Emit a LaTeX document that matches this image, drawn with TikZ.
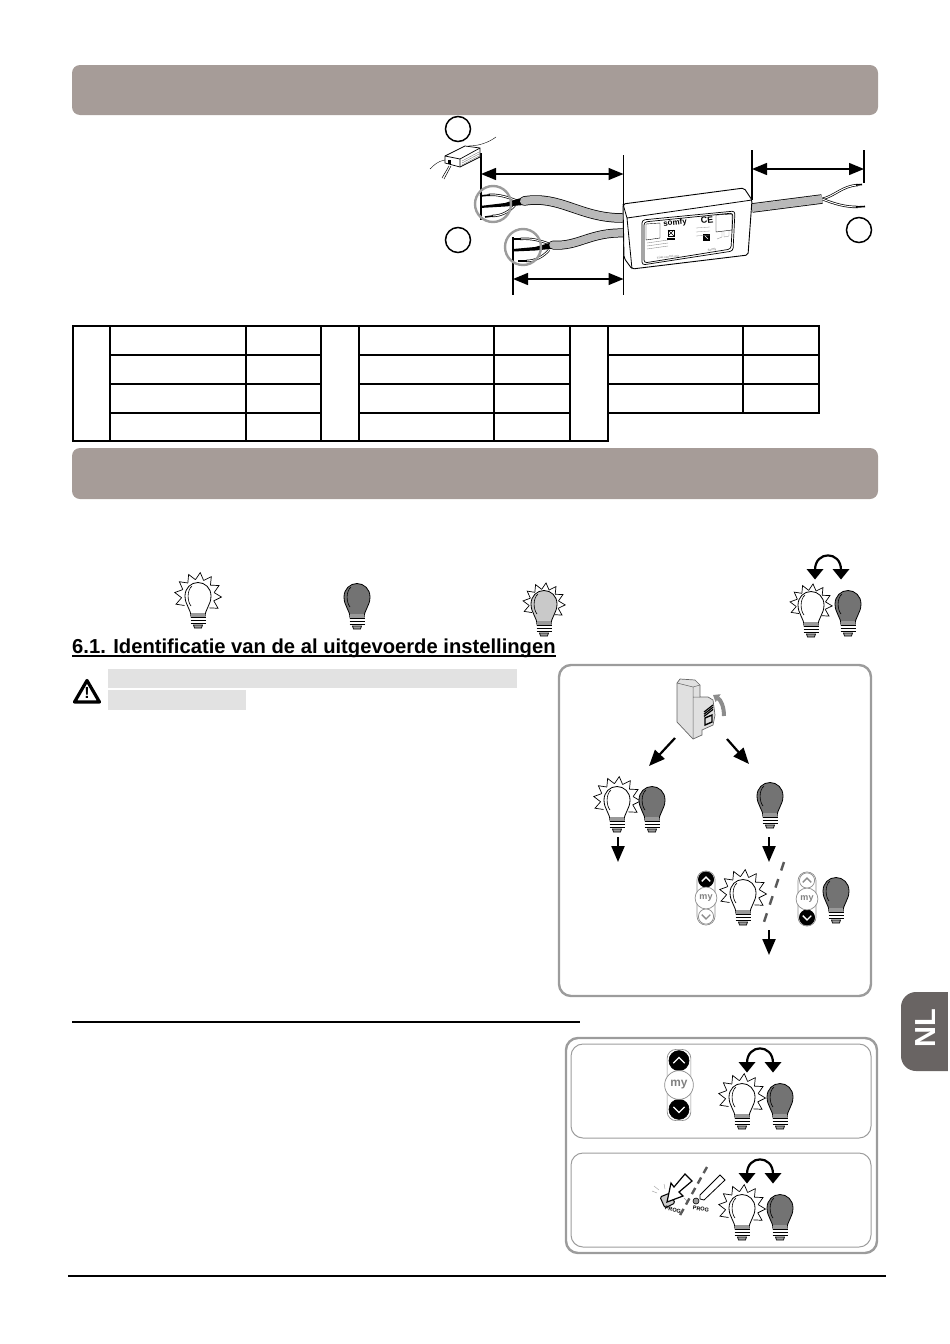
\documentclass[tikz,border=0pt]{standalone}
\usepackage{fontspec}
\setmainfont{Liberation Sans}
\usetikzlibrary{arrows.meta}
\definecolor{barcol}{HTML}{A69C98}
\definecolor{tabcol}{HTML}{696463}
\definecolor{offcol}{HTML}{737373}
\definecolor{dimcol}{HTML}{C9C9C9}
\definecolor{framecol}{HTML}{9C9C9C}
\definecolor{hilitecol}{HTML}{E2E2E2}
\definecolor{cablecol}{HTML}{B9B9B9}
\tikzset{
  headbar/.style={fill=barcol,rounded corners=8pt},
  tablecell/.style={draw=black,line width=1.6pt},
  framebox/.style={draw=framecol,line width=2.4pt,rounded corners=12pt},
  innerbox/.style={draw=framecol,line width=1pt,rounded corners=12pt},
  dimline/.style={line width=1.4pt},
  dimarrow/.style={line width=1.4pt,{Triangle[width=12pt,length=15pt]}-{Triangle[width=12pt,length=15pt]}},
  flowarrow/.style={line width=2.2pt,-{Triangle[width=13pt,length=16pt]}},
  slashline/.style={draw=black!65,line width=2.4pt,dash pattern=on 9pt off 9pt},
  wirething/.style={line width=.7pt,double=white,double distance=1pt},
  callout/.style={circle,draw=black,line width=1.5pt,minimum size=25pt,inner sep=0pt},
  ringmark/.style={draw=framecol,line width=2.4pt},
  keyon/.style={fill=black,draw=black},
  keyoff/.style={fill=white,draw=black!45},
  keyonchev/.style={draw=white},
  keyoffchev/.style={draw=black!45},
  pics/bulb/.style={code={
    \draw[fill=#1,line width=.8pt] (-7,21) .. controls (-7,13) and (-13,9) .. (-13,0)
      .. controls (-13,-8) and (-7,-13.5) .. (0,-13.5) .. controls (7,-13.5) and (13,-8) .. (13,0)
      .. controls (13,9) and (7,13) .. (7,21) -- cycle;
    \draw[line width=.6pt] (-7,10) .. controls (-11,5) and (-11,-6) .. (-6,-10);
    \fill[black!40] (-7,17) rectangle (7,21);
    \fill[white] (-7.5,21) rectangle (7.5,29);
    \foreach \y in {21.5,24.5,27.5}
      \draw[line width=1.6pt] (-7.5,\y) -- (7.5,\y);
    \draw[fill=black!40,line width=.7pt] (-4.5,29) -- (4.5,29) -- (3.5,32) -- (-3.5,32) -- cycle;
  }},
  pics/bulboff/.style={code={\pic {bulb=offcol};}},
  pics/bulbon/.style={code={
    \foreach \a in {145,174,...,377}
      \draw[line width=.7pt] (\a:16.5) -- (\a+14.5:23.5) -- (\a+29:16.5);
    \pic {bulb=white};
  }},
  pics/bulbdim/.style={code={
    \foreach \a in {145,174,...,377}
      \draw[line width=.7pt] (\a:16.5) -- (\a+14.5:23.5) -- (\a+29:16.5);
    \pic {bulb=dimcol};
  }},
  pics/swaparrow/.style={code={
    \draw[line width=2.2pt] (-13,15) .. controls (-13,-4.5) and (13,-4.5) .. (13,15);
    \fill (-21.5,14) -- (-4.5,14) -- (-13,24.5) -- cycle;
    \fill (4.5,14) -- (21.5,14) -- (13,24.5) -- cycle;
  }},
  pics/remote/.style 2 args={code={
    \draw[draw=black!45,fill=white,line width=.7pt,rounded corners=9pt] (-9.5,-28.5) rectangle (9.5,28.5);
    \draw[#1,line width=.7pt] (0,-19.5) circle (8);
    \draw[#2,line width=.7pt] (0,19.5) circle (8);
    \draw[fill=white,draw=black!45,line width=.7pt] (0,0) circle (11.5);
    \draw[#1chev,line width=1.3pt] (-4.5,-17.5) -- (0,-22) -- (4.5,-17.5);
    \draw[#2chev,line width=1.3pt] (-4.5,17.5) -- (0,22) -- (4.5,17.5);
    \node[text=black!50,font=\bfseries\fontsize{9.5}{9.5}\selectfont,transform shape,inner sep=0pt] {my};
  }}
}
\begin{document}
\begin{tikzpicture}[x=1pt,y=-1pt]
  \useasboundingbox (0,0) rectangle (950,1344);
  % grey bars
  \fill[headbar] (72,65) rectangle (878,115);
  \fill[headbar] (72,448) rectangle (878,499);

  % cable lengths
  \node (mark1) [callout] at (458,129) {};
  \node (mark2) [callout] at (458,240) {};
  \node (mark3) [callout] at (859,230) {};
  \coordinate (lenA) at (481,153); \coordinate (lenAb) at (481,220);
  \coordinate (lenB) at (623.5,155); \coordinate (lenBb) at (623.5,295);
  \coordinate (lenC) at (513,237); \coordinate (lenCb) at (513,295);
  \coordinate (lenD) at (752,150); \coordinate (lenDb) at (752,200);
  \coordinate (lenE) at (864,150); \coordinate (lenEb) at (864,183);
  \draw[dimline] (lenA) -- (lenAb);
  \draw[dimline] (lenB) -- (lenBb);
  \draw[dimline] (lenC) -- (lenCb);
  \draw[dimline] (lenD) -- (lenDb);
  \draw[dimline] (lenE) -- (lenEb);
  \draw[dimarrow] (481,174) -- (623.5,174);
  \draw[dimarrow] (513,279) -- (623.5,279);
  \draw[dimarrow] (752,169) -- (864,169);

  % small device
  \draw[line width=.4pt] (445,160) .. controls (438,161) and (434,165) .. (430,169);
  \draw[line width=.5pt] (449,166) -- (442,178) (451,166) -- (444,179);
  \draw[line width=.4pt] (468,146) .. controls (478,146) and (488,143) .. (496,137);
  \draw[line width=.7pt,fill=white] (445,156) -- (465,146) -- (480,148) -- (480,157) -- (460,167) -- (445,163) -- cycle;
  \draw[line width=.7pt] (445,156) -- (460,159) -- (480,148) (460,159) -- (460,167);
  \foreach \t in {2,4,6}
    \draw[black!60,line width=.3pt] (462,159+\t) -- (479,150+\t);
  \fill (448,160) rectangle (451,164);

  % wires and cables
  \draw[wirething] (488,195) .. controls (498,194) and (508,197) .. (520,202);
  \draw[wirething] (492,216) .. controls (502,216) and (510,211) .. (515,205);
  \draw[line width=1.6pt] (480,196) -- (490,195) (485,217) -- (493,216);
  \fill (480,206) -- (505,203) -- (524,197) -- (524,205) -- (505,206.5) -- (480,208) -- cycle;
  \draw[wirething] (520,239) .. controls (530,238) and (540,240) .. (552,245);
  \draw[wirething] (526,261) .. controls (535,261) and (543,257) .. (549,250);
  \draw[line width=1.6pt] (513,239) -- (521,239) (518,261) -- (527,261);
  \fill (513,249) -- (535,247) -- (555,241.5) -- (555,248.5) -- (535,250.5) -- (513,251.5) -- cycle;
  \draw[line width=9.5pt,line cap=round] (524,201) .. controls (560,195) and (580,218) .. (622,218);
  \draw[cablecol,line width=8pt,line cap=round] (524,201) .. controls (560,195) and (580,218) .. (622,218);
  \draw[line width=9pt,line cap=round] (553,245) .. controls (578,247) and (590,232) .. (624,233);
  \draw[cablecol,line width=7.5pt,line cap=round] (553,245) .. controls (578,247) and (590,232) .. (624,233);
  \draw[ringmark] (493,204) circle (18);
  \draw[ringmark] (523,247) circle (18);
  \draw[wirething] (822,199) .. controls (835,196) and (842,186) .. (858,185);
  \draw[wirething] (822,199) .. controls (835,204) and (845,207) .. (858,207);
  \draw[line width=1.6pt] (856,185) -- (862,184.5) (856,207) -- (865,206.5);
  \draw[line width=9.5pt] (752,208) -- (822,199);
  \draw[cablecol,line width=8pt] (752,208) -- (822,199);

  % main device
  \draw[fill=white,line width=.9pt,rounded corners=2pt] (623,204) -- (744,188) -- (752,200) -- (748,255) -- (632,269) -- (624,258) -- cycle;
  \draw[line width=.8pt] (623,204) -- (627,218) -- (752,200) (627,218) -- (632,269);
  \draw[line width=.7pt,rounded corners=3pt] (642,220) -- (735,211) -- (733,251) -- (642,265) -- cycle;
  \draw[line width=.7pt,rounded corners=3pt] (644,222) -- (733,213) -- (731,249) -- (644,263) -- cycle;
  \draw[line width=.4pt] (646,224) -- (660,223) -- (660,238) -- (646,240) -- cycle;
  \draw[line width=.4pt] (716,215) -- (732,214) -- (732,230) -- (716,232) -- cycle;
  \node (brand) [rotate=6,inner sep=0pt,font=\bfseries\fontsize{8}{8}\selectfont] at (675,223) {somfy};
  \node (ce) [rotate=6,inner sep=0pt,font=\bfseries\fontsize{9}{9}\selectfont] at (707,220) {CE};
  \node (tagtext) [rotate=6,inner sep=0pt,text=black!60,font=\fontsize{3}{3}\selectfont] at (668,257) {Triac control unit};
  \node (tagtextb) [rotate=6,inner sep=0pt,text=black!60,font=\fontsize{3}{3}\selectfont] at (712,250) {Somfy};
  \fill (703,234) rectangle (710,241);
  \draw[white,line width=.5pt] (705,236) -- (708,239);
  \draw[line width=.4pt] (668,230) rectangle (674,236);
  \draw[line width=.4pt] (668,230) -- (674,236) (674,230) -- (668,236);
  \fill (667,238) rectangle (675,240);
  \foreach \y in {243,246,249}
    \draw[black!45,line width=.4pt] (647,\y) -- (668,\y-3);
  \foreach \y in {228,232,236}
    \draw[black!45,line width=.3pt] (696,\y) -- (710,\y-1);
  \draw[black!40,line width=.4pt] (717,239) -- (722,237) -- (722,232) (724,231) -- (724,237) -- (729,236) -- (729,231);

  % table
  \foreach \xa/\xb in {110/246,246/321,359/494,494/570}
    \foreach \ya/\yb in {326/355,355/384,384/413,413/441}
      \draw[tablecell] (\xa,\ya) rectangle (\xb,\yb);
  \foreach \xa/\xb in {608/743,743/819}
    \foreach \ya/\yb in {326/355,355/384,384/413}
      \draw[tablecell] (\xa,\ya) rectangle (\xb,\yb);
  \foreach \xa/\xb in {73/110,321/359,570/608}
    \draw[tablecell] (\xa,326) rectangle (\xb,441);

  % light states
  \pic at (198,596) {bulbon};
  \pic at (357,597) {bulboff};
  \pic[scale=.9] at (544,604) {bulbdim};
  \pic at (828,555) {swaparrow};
  \pic[scale=.9] at (811,605) {bulbon};
  \pic[scale=.9] at (848,604) {bulboff};

  % 6.1
  \node (sectitle) [anchor=base west,inner sep=0pt,font=\bfseries\fontsize{20.2}{20.2}\selectfont] at (72,653) {6.1. Identificatie van de al uitgevoerde instellingen};
  \draw[line width=1.6pt] ([yshift=-3pt]sectitle.base west) -- ([yshift=-3pt]sectitle.base east);
  \fill[hilitecol] (108,669) rectangle (517,688);
  \fill[hilitecol] (108,690) rectangle (246,710);
  \draw[line width=3.2pt,line join=round] (87,680.5) -- (99.5,702) -- (74.5,702) -- cycle;
  \node (warnmark) [inner sep=0pt,font=\bfseries\fontsize{16}{16}\selectfont] at (87,693) {!};

  % power-on box
  \draw[framebox] (559,665) rectangle (871,996);
  \draw[black!60,fill=black!12,line width=.7pt] (677,683) -- (680,679) -- (695,680) -- (700,685) -- (700,697) -- (708,697) -- (713,700) -- (715,715) -- (713,725) -- (702,730) -- (702,735) -- (693,739) -- (677,722) -- cycle;
  \draw[black!60,line width=.5pt] (677,683) -- (693,687) -- (693,739) (693,687) -- (700,685) (693,697) -- (700,697);
  \foreach \t in {0,2.2,4.4}
    \draw[line width=1.2pt] (704,712+\t) -- (713,705+\t);
  \draw[line width=1.4pt] (705,718) -- (712,715) -- (712,722) -- (705,725) -- cycle;
  \draw[black!45,line width=4pt,-{Triangle[width=9pt,length=6pt]}] (724,716) .. controls (724,707) and (721,700) .. (713,695);
  \coordinate (splitL) at (675,738);
  \coordinate (splitLb) at (649,766);
  \coordinate (splitR) at (727,739);
  \coordinate (splitRb) at (749,764);
  \draw[flowarrow] (splitL) -- (splitLb);
  \draw[flowarrow] (splitR) -- (splitRb);
  \pic at (617,800) {bulbon};
  \pic at (652,800) {bulboff};
  \pic at (770,796) {bulboff};
  \coordinate (downA) at (618,837);
  \coordinate (downAb) at (618,862);
  \coordinate (downB) at (769,837);
  \coordinate (downBb) at (769,862);
  \coordinate (downC) at (769,930);
  \coordinate (downCb) at (769,955);
  \draw[flowarrow] (downA) -- (downAb);
  \draw[flowarrow] (downB) -- (downBb);
  \draw[flowarrow] (downC) -- (downCb);
  \draw[slashline] (784,862) -- (762,928);
  \pic[scale=.95] at (706,898) {remote={keyon}{keyoff}};
  \pic at (743,893) {bulbon};
  \pic[scale=.95] at (807,899) {remote={keyoff}{keyon}};
  \pic at (836,891) {bulboff};

  % rule
  \draw[line width=1.5pt] (72,1022) -- (580,1022);

  % reset box
  \draw[framebox] (566,1038) rectangle (877,1253);
  \draw[innerbox] (571,1044) rectangle (871,1138);
  \draw[innerbox] (571,1153) rectangle (871,1247);
  \pic[scale=1.25,transform shape] at (679,1085) {remote={keyon}{keyon}};
  \pic at (760,1048) {swaparrow};
  \pic at (742,1097) {bulbon};
  \pic at (780,1097) {bulboff};
  \pic at (760,1159) {swaparrow};
  \pic at (742,1208) {bulbon};
  \pic at (780,1208) {bulboff};
  % prog button
  \draw[fill=black!20,line width=1pt,rounded corners=1.5pt] (660,1197) -- (670,1193) -- (675,1203) -- (665,1208) -- cycle;
  \draw[line width=1.2pt,fill=white] (667,1202) -- (671,1183) -- (674,1187) -- (685,1174) -- (692,1181) -- (679,1192) -- (683,1196) -- cycle;
  \draw[black!40,line width=.4pt] (652,1191) -- (657,1193) (654,1186) -- (659,1190) (664,1184) -- (665,1189) (684,1198) -- (688,1202);
  \node (progA) [rotate=-15,inner sep=0pt,font=\bfseries\fontsize{5.5}{5.5}\selectfont] at (673,1210) {PROG};
  \draw[slashline,dash pattern=on 7pt off 5pt] (707,1167) -- (679,1217);
  \draw[line width=.6pt,fill=black!40] (696,1201) circle (3);
  \draw[line width=.8pt,fill=white] (720,1175) -- (725,1180) -- (704,1200) -- (700,1199) -- (700,1195) -- cycle;
  \node (progB) [rotate=-10,inner sep=0pt,font=\bfseries\fontsize{5.5}{5.5}\selectfont] at (701,1209) {PROG};

  % page foot and language tab
  \draw[line width=2pt] (68,1276) -- (886,1276);
  \fill[tabcol,rounded corners=15pt] (975,992) -- (901,992) -- (901,1071) -- (975,1071) -- cycle;
  \fill[white] (948,985) rectangle (955,1080);
  \node (lang) [rotate=90,inner sep=0pt,text=white,font=\bfseries\fontsize{29}{29}\selectfont] at (925.5,1028) {NL};
\end{tikzpicture}
\end{document}
